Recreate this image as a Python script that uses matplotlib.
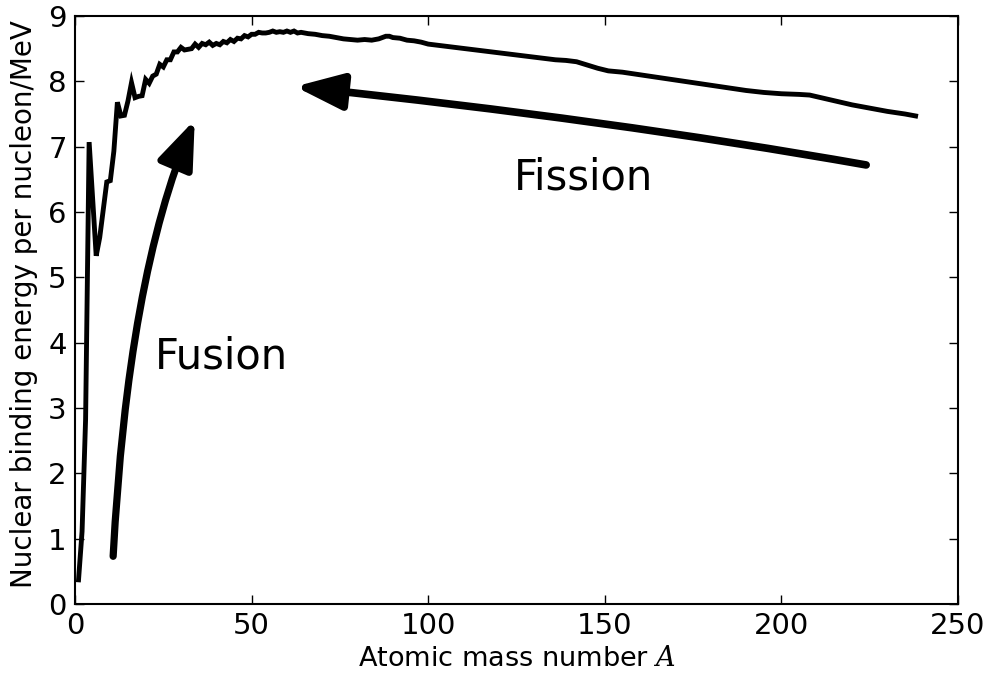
import matplotlib
matplotlib.use("Agg")
import matplotlib.pyplot as plt

plt.rcParams['font.family'] = ['DejaVu Sans']
plt.rcParams['mathtext.fontset'] = 'dejavuserif'

# Mass number A and binding energy per nucleon (MeV)
mass_number = [1, 2, 3, 4, 6, 7, 9, 10, 11, 12, 13, 14, 15, 16, 17, 18, 19, 20,
               21, 22, 23, 24, 25, 26, 27, 28, 29, 30, 31, 32, 33, 34, 35, 36,
               37, 38, 39, 40, 41, 42, 43, 44, 45, 46, 47, 48, 49, 50, 51, 52,
               53, 54, 55, 56, 57, 58, 59, 60, 61, 62, 63, 64, 66, 68, 70, 72,
               74, 76, 78, 80, 82, 84, 86, 88, 89, 90, 92, 94, 96, 98, 100,
               103, 106, 109, 112, 115, 118, 121, 124, 127, 130, 133, 136, 139,
               142, 145, 148, 151, 155, 160, 165, 170, 175, 180, 185, 190, 195,
               200, 205, 208, 212, 216, 220, 225, 230, 235, 238]
binding_energy = [0.37, 1.11, 2.83, 7.07, 5.33, 5.61, 6.46, 6.48, 6.93, 7.68,
                  7.47, 7.48, 7.70, 7.98, 7.75, 7.77, 7.78, 8.03, 7.97, 8.08,
                  8.11, 8.26, 8.22, 8.33, 8.33, 8.45, 8.45, 8.52, 8.48, 8.49,
                  8.50, 8.57, 8.52, 8.58, 8.56, 8.60, 8.55, 8.58, 8.56, 8.61,
                  8.59, 8.64, 8.61, 8.66, 8.65, 8.70, 8.68, 8.72, 8.72, 8.75,
                  8.74, 8.74, 8.75, 8.77, 8.75, 8.76, 8.75, 8.77, 8.75, 8.77,
                  8.74, 8.75, 8.73, 8.72, 8.70, 8.69, 8.67, 8.65, 8.64, 8.63,
                  8.64, 8.63, 8.65, 8.69, 8.69, 8.67, 8.66, 8.63, 8.62, 8.60,
                  8.57, 8.55, 8.53, 8.51, 8.49, 8.47, 8.45, 8.43, 8.41, 8.39,
                  8.37, 8.35, 8.33, 8.32, 8.30, 8.25, 8.20, 8.16, 8.14, 8.10,
                  8.06, 8.02, 7.98, 7.94, 7.90, 7.86, 7.83, 7.81, 7.80, 7.79,
                  7.74, 7.69, 7.64, 7.59, 7.54, 7.50, 7.47]

x_ticks = [0, 50, 100, 150, 200, 250]
y_ticks = [0, 1, 2, 3, 4, 5, 6, 7, 8, 9]

# Annotation arrows: (tail, head) in data coordinates
fusion_tail, fusion_head = (10.8, 0.73), (33.9, 7.41)
fission_tail, fission_head = (224.0, 6.72), (62.3, 7.92)

fig = plt.figure(figsize=(9.89, 6.75), dpi=100)
ax = fig.add_axes([75/989, 1-604/675, (958-75)/989, (604-16)/675])

ax.plot(mass_number, binding_energy, color='black', lw=3.5,
        solid_joinstyle='miter')

ax.set_xlim(0, 250)
ax.set_ylim(0, 9)
ax.set_xticks(x_ticks)
ax.set_yticks(y_ticks)
ax.tick_params(direction='in', top=True, right=True, length=6.5, width=1,
               labelsize=21, pad=6)
for s in ax.spines.values():
    s.set_linewidth(1.5)

ax.set_xlabel('Atomic mass number $A$', fontsize=19.5, labelpad=4)
ax.set_ylabel('Nuclear binding energy per nucleon/MeV', fontsize=20,
              labelpad=7, y=0.51)

arrow_style = '-|>,head_length=2.9,head_width=1.1'
ax.annotate('', xy=fusion_head, xytext=fusion_tail,
            arrowprops=dict(arrowstyle=arrow_style, mutation_scale=10,
                            connectionstyle='angle3,angleA=87,angleB=67',
                            fc='black', ec='black', lw=5.2,
                            shrinkA=0, shrinkB=0))
ax.annotate('', xy=fission_head, xytext=fission_tail,
            arrowprops=dict(arrowstyle=arrow_style, mutation_scale=10,
                            connectionstyle='angle3,angleA=170,angleB=174',
                            fc='black', ec='black', lw=5.5,
                            shrinkA=0, shrinkB=0))

ax.text(22.6, 3.61, 'Fusion', fontsize=30, ha='left', va='baseline')
ax.text(124.3, 6.34, 'Fission', fontsize=30, ha='left', va='baseline')

fig.savefig('out.png', dpi=100)
